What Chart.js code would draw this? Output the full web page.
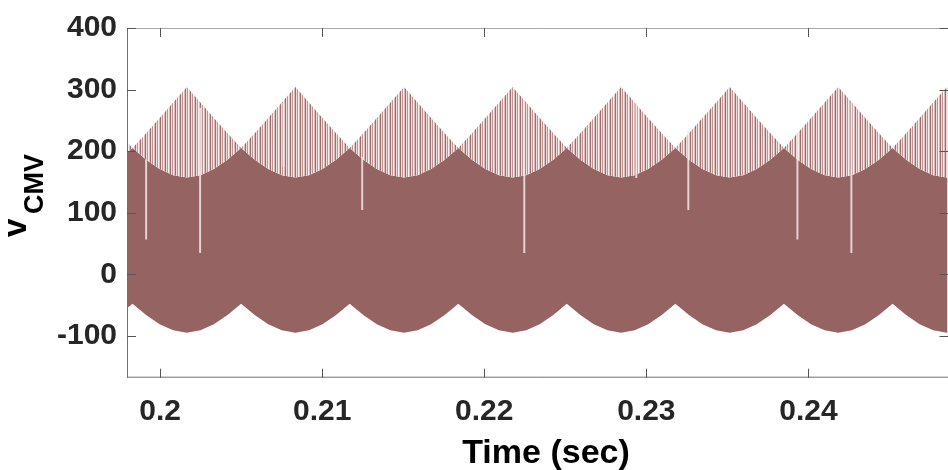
<!DOCTYPE html>
<html>
<head>
<meta charset="utf-8">
<script src="https://cdn.jsdelivr.net/npm/chart.js@4/dist/chart.umd.min.js"></script>
<style>
  html, body { margin: 0; padding: 0; background: #ffffff; }
  #wrap { width: 948px; height: 470px; }
</style>
</head>
<body>
<div id="wrap"><canvas id="c" width="948" height="470"></canvas></div>
<script>
// ---- data ----
const times = [
  0.19746,
  0.19830, 0.19914, 0.19997, 0.20081, 0.20165, 0.20249, 0.20332, 0.20416,
  0.20500, 0.20584, 0.20667, 0.20751, 0.20835, 0.20919, 0.21002, 0.21086,
  0.21170, 0.21254, 0.21337, 0.21421, 0.21505, 0.21589, 0.21672, 0.21756,
  0.21840, 0.21924, 0.22007, 0.22091, 0.22175, 0.22259, 0.22342, 0.22426,
  0.22509, 0.22593, 0.22676, 0.22760, 0.22844, 0.22928, 0.23011, 0.23095,
  0.23179, 0.23263, 0.23346, 0.23430, 0.23514, 0.23598, 0.23681, 0.23765,
  0.23849, 0.23933, 0.24016, 0.24100, 0.24184, 0.24268, 0.24351, 0.24435,
  0.24519, 0.24603, 0.24686, 0.24770, 0.24854, 0.24938
];
// lower envelope of the CMV waveform
const lowerEnv = [
  -66,
  -48, -66, -81, -91, -95, -91, -81, -66,
  -48, -66, -81, -91, -95, -91, -81, -66,
  -48, -66, -81, -91, -95, -91, -81, -66,
  -48, -66, -81, -91, -95, -91, -81, -66,
  -48, -66, -81, -91, -95, -91, -81, -66,
  -48, -66, -81, -91, -95, -91, -81, -66,
  -48, -66, -81, -91, -95, -91, -81, -66,
  -48, -66, -81, -91, -95, -91
];
// top of the dense (solid) switching band
const solidTop = [
  186,
  205, 186, 171, 161, 157, 161, 171, 186,
  205, 186, 171, 161, 157, 161, 171, 186,
  205, 186, 171, 161, 157, 161, 171, 186,
  205, 186, 171, 161, 157, 161, 171, 186,
  205, 186, 171, 161, 157, 161, 171, 186,
  205, 186, 171, 161, 157, 161, 171, 186,
  205, 186, 171, 161, 157, 161, 171, 186,
  205, 186, 171, 161, 157, 161
];
// top of the sparse (hatched) switching pulses
const pulseTop = [
  229,
  205, 229, 254, 279, 304, 279, 254, 229,
  205, 229, 254, 279, 304, 279, 254, 229,
  205, 229, 254, 279, 304, 279, 254, 229,
  205, 229, 254, 279, 304, 279, 254, 229,
  205, 229, 254, 279, 304, 279, 254, 229,
  205, 229, 254, 279, 304, 279, 254, 229,
  205, 229, 254, 279, 304, 279, 254, 229,
  205, 229, 254, 279, 304, 279
];
// isolated gaps (white slivers) in the waveform
const gapTimes = [0.19914, 0.20247, 0.20762, 0.21247, 0.22247, 0.22938, 0.23259, 0.23932, 0.24265];
const gapLow   = [57, 35, 175, 105, 35, 157, 105, 57, 35];
const gapHigh  = [186, 270, 278, 190, 280, 278, 232, 230, 280];

const xTickValues = [0.2, 0.21, 0.22, 0.23, 0.24];
const xTickLabels = ['0.2', '0.21', '0.22', '0.23', '0.24'];
const yTickValues = [-100, 0, 100, 200, 300, 400];
const yTickLabels = ['-100', '0', '100', '200', '300', '400'];
const xRange = [0.19796, 0.24858];
const yRange = [-168, 400];

// ---- styling ----
const FONT = "'Liberation Sans', Arial, Helvetica, sans-serif";
const mainColor = '#956362';

function makeHatch() {
  const pc = document.createElement('canvas');
  pc.width = 5; pc.height = 4;
  const g = pc.getContext('2d');
  const cols = ['#9d6c6b', '#ecdcdc', '#bf9493', '#f7efef', '#d9bdbd'];
  cols.forEach((c, i) => { g.fillStyle = c; g.fillRect(i, 0, 1, 4); });
  return g.createPattern(pc, 'repeat');
}
const hatch = makeHatch();

const xy = (xs, ys) => xs.map((t, i) => ({ x: t, y: ys[i] }));

const frame = {
  id: 'frame',
  afterDraw(chart) {
    const { ctx, chartArea: a, scales } = chart;
    const x = scales.x, y = scales.y;
    ctx.save();
    // box
    ctx.lineWidth = 1;
    ctx.strokeStyle = '#a9a9a9';
    ctx.beginPath();
    ctx.moveTo(a.left, a.top + 0.5); ctx.lineTo(a.right + 1, a.top + 0.5);
    ctx.stroke();
    ctx.strokeStyle = '#6e6e6e';
    ctx.beginPath();
    ctx.moveTo(a.left + 0.5, a.top); ctx.lineTo(a.left + 0.5, a.bottom);
    ctx.moveTo(a.left, a.bottom - 0.5); ctx.lineTo(a.right + 1, a.bottom - 0.5);
    ctx.stroke();
    // inward ticks
    ctx.strokeStyle = '#555555';
    ctx.beginPath();
    xTickValues.forEach(v => {
      const px = Math.round(x.getPixelForValue(v)) + 0.5;
      ctx.moveTo(px, a.bottom); ctx.lineTo(px, a.bottom - 9);
      ctx.moveTo(px, a.top); ctx.lineTo(px, a.top + 9);
    });
    yTickValues.forEach(v => {
      const py = Math.round(y.getPixelForValue(v)) + 0.5;
      ctx.moveTo(a.left, py); ctx.lineTo(a.left + 9, py);
      ctx.moveTo(a.right + 1, py); ctx.lineTo(a.right - 8, py);
    });
    ctx.stroke();
    // x axis title
    ctx.fillStyle = '#000000';
    ctx.font = 'bold 34px ' + FONT;
    ctx.textAlign = 'center';
    ctx.textBaseline = 'alphabetic';
    ctx.fillText('Time (sec)', 546, 463);
    // y axis title: v with subscript CMV (rotated)
    ctx.translate(26, 237);
    ctx.rotate(-Math.PI / 2);
    ctx.textAlign = 'left';
    ctx.font = 'bold 33px ' + FONT;
    ctx.fillText('v', 0, 0);
    ctx.font = 'bold 27px ' + FONT;
    ctx.fillText('CMV', 23, 17);
    ctx.restore();
  }
};

new Chart(document.getElementById('c'), {
  type: 'line',
  data: {
    datasets: [
      {
        data: xy(times, lowerEnv),
        borderWidth: 0, pointRadius: 0, tension: 0,
        backgroundColor: mainColor, fill: false, order: 3
      },
      {
        data: xy(times, solidTop),
        borderWidth: 0, pointRadius: 0, tension: 0,
        backgroundColor: mainColor, fill: 0, order: 2
      },
      {
        data: xy(times, pulseTop),
        borderWidth: 0, pointRadius: 0, tension: 0,
        backgroundColor: hatch, fill: 1, order: 1
      },
      {
        type: 'bar',
        data: gapTimes.map((t, i) => ({ x: t, y: [gapLow[i], gapHigh[i]] })),
        backgroundColor: 'rgba(245,232,232,0.85)',
        borderWidth: 0, barThickness: 1.3, grouped: false, order: -1
      }
    ]
  },
  options: {
    responsive: false,
    animation: false,
    devicePixelRatio: 1,
    layout: { padding: { left: 0, right: 0.5, top: 17.5, bottom: 0 } },
    plugins: { legend: { display: false }, tooltip: { enabled: false } },
    scales: {
      x: {
        type: 'linear',
        min: xRange[0], max: xRange[1],
        offset: false,
        grid: { display: false, drawTicks: false },
        border: { display: false },
        afterBuildTicks: s => { s.ticks = xTickValues.map(v => ({ value: v })); },
        afterFit: s => { s.height = 92.3; },
        ticks: {
          padding: 16,
          color: '#262626',
          font: { family: FONT, size: 30, weight: 'bold' },
          maxRotation: 0,
          callback: (v) => { const i = xTickValues.findIndex(t => Math.abs(t - v) < 1e-9); return i >= 0 ? xTickLabels[i] : ''; }
        }
      },
      y: {
        type: 'linear',
        min: yRange[0], max: yRange[1],
        grid: { display: false, drawTicks: false },
        border: { display: false },
        afterBuildTicks: s => { s.ticks = yTickValues.map(v => ({ value: v })); },
        afterFit: s => { s.width = 127; },
        ticks: {
          padding: 10,
          color: '#262626',
          font: { family: FONT, size: 30, weight: 'bold' },
          callback: (v) => { const i = yTickValues.indexOf(v); return i >= 0 ? yTickLabels[i] : ''; }
        }
      }
    }
  },
  plugins: [frame]
});
</script>
</body>
</html>
